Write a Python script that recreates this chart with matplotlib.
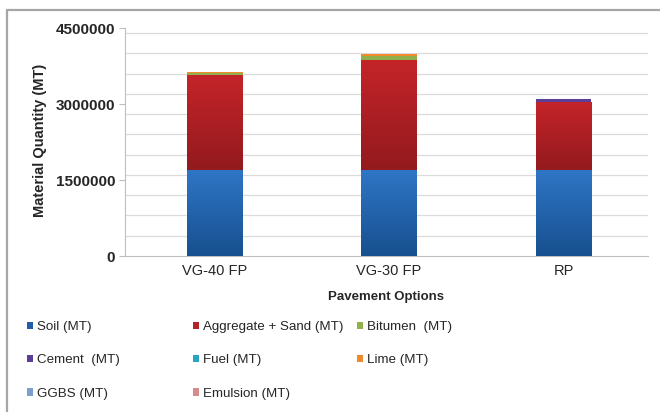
import matplotlib
matplotlib.use("Agg")
import matplotlib.pyplot as plt
import numpy as np
from matplotlib.colors import to_rgb
from matplotlib.patches import Rectangle

plt.rcParams['font.family'] = ['Liberation Sans', 'DejaVu Sans']

# material quantities per pavement option (MT)
options = ['VG-40 FP', 'VG-30 FP', 'RP']
soil = [1700000, 1700000, 1700000]
aggregate = [1870000, 2170000, 1330000]
bitumen = [45000, 80000, 0]
cement = [0, 0, 70000]
fuel = [0, 0, 0]
lime = [20000, 30000, 0]
ggbs = [0, 0, 0]
emulsion = [0, 0, 0]

names = ['Soil (MT)', 'Aggregate + Sand (MT)', 'Bitumen  (MT)', 'Cement  (MT)',
         'Fuel (MT)', 'Lime (MT)', 'GGBS (MT)', 'Emulsion (MT)']
series = [soil, aggregate, bitumen, cement, fuel, lime, ggbs, emulsion]
colors = ['#1f5fa8', '#b3232a', '#8fb04a', '#5b3f96',
          '#2aa3c4', '#f08a2c', '#7c9fd0', '#d98a8a']
# top / bottom shades for the two big layers
shades = {0: ('#2f76c6', '#17508f'), 1: ('#c42429', '#931a1e')}

fig = plt.figure(figsize=(6.6, 4.12), dpi=100)
fig.patches.append(Rectangle((7 / 660, -0.05), 1.2, 1 - 10 / 412 + 0.05,
                             transform=fig.transFigure, fill=False,
                             edgecolor='#a6a6a6', linewidth=1.6))
ax = fig.add_axes([125 / 660, 1 - 256 / 412, 523 / 660, 228 / 412])

x = np.arange(len(options))
width = 0.32
bottom = np.zeros(len(options))
containers = []
for i, (vals, col) in enumerate(zip(series, colors)):
    bc = ax.bar(x + 0.015, vals, width, bottom=bottom, color=col, label=names[i],
                linewidth=0, zorder=3)
    containers.append(bc)
    if i in shades:
        top_c, bot_c = np.array(to_rgb(shades[i][0])), np.array(to_rgb(shades[i][1]))
        t = np.linspace(0, 1, 64)[:, None]
        grad = (top_c * (1 - t) + bot_c * t)[:, None, :]
        for p in bc.patches:
            x0, y0 = p.get_x(), p.get_y()
            ax.imshow(grad, extent=[x0, x0 + p.get_width(), y0, y0 + p.get_height()],
                      aspect='auto', zorder=4, interpolation='bilinear')
    bottom += np.array(vals)

ax.set_xlim(-0.5, 2.5)
ax.set_ylim(0, 4500000)
ax.set_yticks([0, 1500000, 3000000, 4500000])
ax.set_yticklabels(['0', '1500000', '3000000', '4500000'], fontsize=11,
                   fontweight='bold', color='#262626')
ax.set_yticks(np.arange(0, 4400001, 400000), minor=True)
ax.grid(True, which='minor', axis='y', color='#dcdcdc', linewidth=0.9, zorder=0)
ax.tick_params(axis='y', which='minor', length=0)
ax.tick_params(axis='y', which='major', length=4, color='#bfbfbf', pad=3)
ax.set_xticks(x + 0.015)
ax.set_xticklabels(options, fontsize=10.5, color='#262626')
ax.tick_params(axis='x', length=0, pad=6)
for s in ['top', 'right']:
    ax.spines[s].set_visible(False)
ax.spines['left'].set_color('#bfbfbf')
ax.spines['bottom'].set_color('#bfbfbf')
ax.set_axisbelow(True)

fig.text(40 / 660, 1 - 140 / 412, 'Material Quantity (MT)', rotation=90,
         ha='center', va='center', fontsize=10.5, fontweight='bold', color='#262626')
fig.text(386 / 660, 1 - 297 / 412, 'Pavement Options', ha='center', va='center',
         fontsize=9.5, fontweight='bold', color='#262626')

# legend laid out in three columns, filled row by row
handles = [c.patches[0] for c in containers]
cols = [[0, 3, 6], [1, 4, 7], [2, 5]]
col_x = [27, 193, 357]
for idx, cx in zip(cols, col_x):
    leg = fig.legend([handles[k] for k in idx], [names[k] for k in idx],
                     loc='upper left', bbox_to_anchor=(cx / 660, 1 - 321 / 412),
                     frameon=False, fontsize=9.6, handlelength=0.45, handleheight=0.45,
                     handletextpad=0.3, labelspacing=1.6, borderpad=0,
                     borderaxespad=0)
    for txt in leg.get_texts():
        txt.set_color('#262626')

fig.savefig('out.png', dpi=100)
